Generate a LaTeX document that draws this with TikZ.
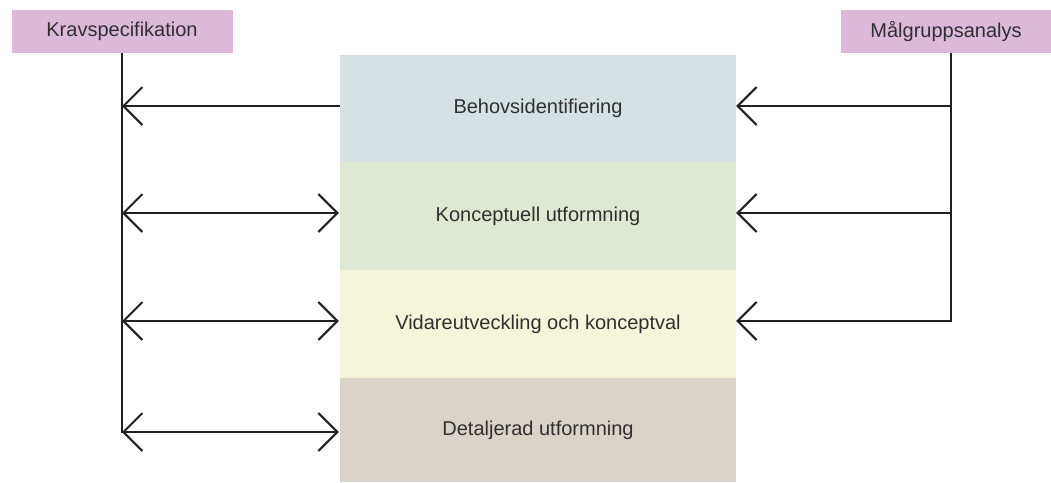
\documentclass[tikz,border=0pt]{standalone}
\usepackage{fontspec}
\setmainfont{Liberation Sans}
\usetikzlibrary{arrows.meta}
\definecolor{tagfill}{HTML}{DDB9D9}
\definecolor{phaseA}{HTML}{D6E1E3}
\definecolor{phaseB}{HTML}{DEE8D3}
\definecolor{phaseC}{HTML}{F5F5D9}
\definecolor{phaseD}{HTML}{D9D3C9}
\definecolor{txt}{HTML}{303030}
\definecolor{ink}{HTML}{202020}
\begin{document}
\begin{tikzpicture}[x=1pt,y=-1pt,
  tag/.style={fill=tagfill, minimum height=43pt, inner sep=0pt,
    font=\fontsize{20}{24}\selectfont, text=txt},
  phase/.style={minimum width=396pt, inner sep=0pt,
    font=\fontsize{20}{24}\selectfont, text=txt},
  spine/.style={draw=ink, line width=2pt},
  link/.style={draw=ink, line width=2pt,
    arrows={-Straight Barb[length=19pt,width=38pt,line width=2pt]}},
  both/.style={link, arrows={Straight Barb[length=19pt,width=38pt,line width=2pt]-Straight Barb[length=19pt,width=38pt,line width=2pt]}}]
\useasboundingbox (0,0) rectangle (1051,482);

% source documents
\node[tag, minimum width=221pt] (krav) at (122,31.5) {Kravspecifikation};
\node[tag, minimum width=210pt] (mal) at (946,31.5) {Målgruppsanalys};

% design phases
\node[phase, fill=phaseA, minimum height=107pt] (behov) at (538,108.5) {Behovsidentifiering};
\node[phase, fill=phaseB, minimum height=108pt] (konc) at (538,216) {Konceptuell utformning};
\node[phase, fill=phaseC, minimum height=108pt] (vidare) at (538,324) {Vidareutveckling och konceptval};
\node[phase, fill=phaseD, minimum height=104pt] (detalj) at (538,430) {Detaljerad utformning};

% vertical spines
\coordinate (kbot) at (122,433);
\coordinate (mtop) at (951,53);
\coordinate (mbot) at (951,322);
\draw[spine] (krav.south) -- (kbot);
\draw[spine] (mtop) -- (mbot);

% requirement links
\draw[link] ([yshift=2.5pt]behov.west) -- ([yshift=2.5pt]behov.west -| kbot);
\draw[both] ([yshift=3pt]konc.west -| kbot) -- ([yshift=3pt,xshift=-1pt]konc.west);
\draw[both] ([yshift=3pt]vidare.west -| kbot) -- ([yshift=3pt,xshift=-1pt]vidare.west);
\draw[both] ([yshift=-2pt]detalj.west -| kbot) -- ([yshift=-2pt,xshift=-1pt]detalj.west);

% target group links
\draw[link] ([yshift=2.5pt]behov.east -| mbot) -- ([yshift=2.5pt]behov.east);
\draw[link] ([yshift=3pt]konc.east -| mbot) -- ([yshift=3pt]konc.east);
\draw[link] ([yshift=3pt]vidare.east -| mbot) -- ([yshift=3pt]vidare.east);
\end{tikzpicture}
\end{document}
